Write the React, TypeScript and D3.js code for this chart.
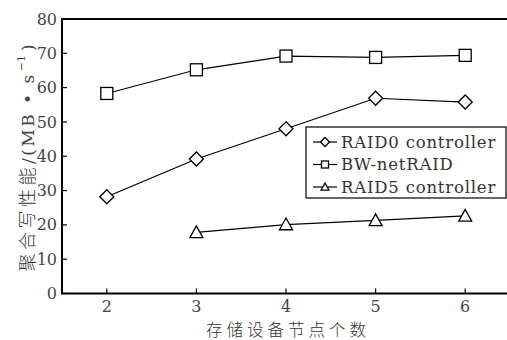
import React, { useEffect, useRef } from "react";
import * as d3 from "d3";

const nodes = [2, 3, 4, 5, 6];
const raid0 = [28.2, 39.2, 48.0, 56.9, 55.8];
const bwNet = [58.3, 65.2, 69.2, 68.8, 69.4];
const raid5Nodes = [3, 4, 5, 6];
const raid5 = [17.8, 20.1, 21.3, 22.6];
const yTicks = [0, 10, 20, 30, 40, 50, 60, 70, 80];
const legendNames = ["RAID0 controller", "BW-netRAID", "RAID5 controller"];
const xTitle = "存储设备节点个数";
const yTitle = "聚合写性能";

const W = 507;
const H = 340;
const serif = "'DejaVu Serif', serif";
const cjk = "Noto Sans CJK SC, sans-serif";

const App = () => {
  const svgRef = useRef(null);

  useEffect(() => {
    const svg = d3.select(svgRef.current);
    svg.selectAll("*").remove();
    const margin = { top: 19, left: 62, bottom: 46 };

    const x = d3.scaleLinear().domain([1.5, 6.5]).range([margin.left, margin.left + 5 * 89.6]);
    const y = d3.scaleLinear().domain([0, 80]).range([H - margin.bottom - 0.5, margin.top]);

    const g = svg.append("g");

    // frame: left, bottom, top (right edge runs off the picture)
    g.append("path")
      .attr("d", `M${x(6.6)},${y(80)}H${x(1.5)}V${y(0)}H${x(6.6)}`)
      .attr("stroke", "#000").attr("stroke-width", 2).attr("fill", "none");

    // y ticks (inward)
    yTicks.forEach((t) => {
      g.append("line")
        .attr("x1", x(1.5)).attr("x2", x(1.5) + 5)
        .attr("y1", y(t)).attr("y2", y(t))
        .attr("stroke", "#000").attr("stroke-width", 1.2);
      g.append("text")
        .attr("x", x(1.5) - 5).attr("y", y(t))
        .attr("dy", "0.35em")
        .attr("text-anchor", "end")
        .style("font-family", serif)
        .attr("font-size", 16)
        .attr("fill", "#444")
        .text(t);
    });

    // x ticks (inward)
    nodes.forEach((t) => {
      g.append("line")
        .attr("x1", x(t)).attr("x2", x(t))
        .attr("y1", y(0)).attr("y2", y(0) - 5)
        .attr("stroke", "#000").attr("stroke-width", 1.2);
      g.append("text")
        .attr("x", x(t)).attr("y", 312)
        .attr("text-anchor", "middle")
        .style("font-family", serif)
        .attr("font-size", 16)
        .attr("fill", "#444")
        .text(t);
    });

    // axis titles
    g.append("text")
      .attr("x", (x(2) + x(6)) / 2 + 2).attr("y", 335.5)
      .attr("text-anchor", "middle")
      .attr("font-family", cjk)
      .attr("font-size", 16.5)
      .attr("letter-spacing", 4)
      .attr("font-weight", 300)
      .attr("fill", "#333")
      .text(xTitle);

    const yt = g.append("text")
      .attr("transform", `translate(34,158) rotate(-90)`)
      .attr("text-anchor", "middle")
      .attr("font-size", 18)
      .attr("fill", "#333");
    yt.append("tspan").attr("font-family", cjk).attr("font-weight", 300).attr("letter-spacing", 3.5).text(yTitle);
    yt.append("tspan").style("font-family", serif).attr("font-size", 17).attr("fill", "#444").attr("letter-spacing", 2.5).text("/(MB • s");
    yt.append("tspan").style("font-family", serif).attr("font-size", 11).attr("fill", "#444").attr("dy", -9).attr("dx", 1).text("−1");
    yt.append("tspan").style("font-family", serif).attr("font-size", 17).attr("fill", "#444").attr("dy", 9).attr("dx", 4).text(")");

    const line = d3.line().x((d) => x(d[0])).y((d) => y(d[1]));

    const marker = (sel, type, cx, cy, s) => {
      if (type === "square") {
        sel.append("rect")
          .attr("x", cx - s / 2).attr("y", cy - s / 2)
          .attr("width", s).attr("height", s)
          .attr("fill", "#fff").attr("stroke", "#000").attr("stroke-width", 1.3);
      } else if (type === "diamond") {
        const r = s / 2 + 1;
        sel.append("path")
          .attr("d", `M${cx},${cy - r}L${cx + r},${cy}L${cx},${cy + r}L${cx - r},${cy}Z`)
          .attr("fill", "#fff").attr("stroke", "#000").attr("stroke-width", 1.3);
      } else {
        const r = s / 2 + 0.5;
        sel.append("path")
          .attr("d", `M${cx},${cy - r}L${cx + r},${cy + r * 0.8}L${cx - r},${cy + r * 0.8}Z`)
          .attr("fill", "#fff").attr("stroke", "#000").attr("stroke-width", 1.3);
      }
    };

    const series = [
      { pts: d3.zip(nodes, raid0), type: "diamond" },
      { pts: d3.zip(nodes, bwNet), type: "square" },
      { pts: d3.zip(raid5Nodes, raid5), type: "triangle" },
    ];

    series.forEach((s) => {
      g.append("path")
        .datum(s.pts)
        .attr("fill", "none")
        .attr("stroke", "#000")
        .attr("stroke-width", 1.2)
        .attr("d", line);
      s.pts.forEach((p) => marker(g, s.type, x(p[0]), y(p[1]), 12));
    });

    // legend
    const lg = g.append("g").attr("transform", "translate(306,127)");
    lg.append("rect")
      .attr("width", 200).attr("height", 71)
      .attr("fill", "#fff").attr("stroke", "#000").attr("stroke-width", 1.2);
    series.forEach((s, i) => {
      const cy = 15 + i * 22.5;
      lg.append("line")
        .attr("x1", 7).attr("x2", 31).attr("y1", cy).attr("y2", cy)
        .attr("stroke", "#000").attr("stroke-width", 1.2);
      marker(lg, s.type, 19, cy, 7);
      lg.append("text")
        .attr("x", 35).attr("y", cy)
        .attr("dy", "0.35em")
        .style("font-family", serif)
        .attr("font-size", 16.5)
        .attr("letter-spacing", 0.8)
        .attr("fill", "#333")
        .text(legendNames[i]);
    });
  }, []);

  return (
    <div style={{ position: "absolute", left: 0, top: 0, width: W, height: H, overflow: "hidden", background: "#fff" }}>
      <svg ref={svgRef} width={W} height={H}></svg>
    </div>
  );
};

export default App;
